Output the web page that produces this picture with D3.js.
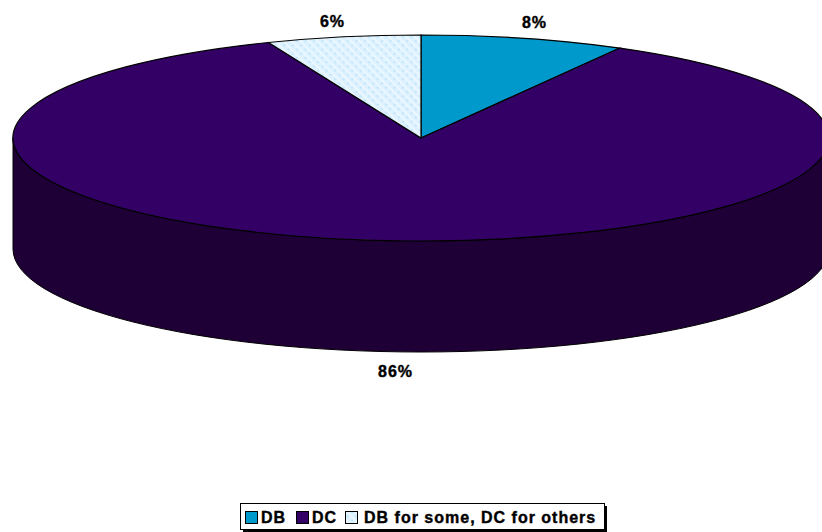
<!DOCTYPE html>
<html><head><meta charset="utf-8">
<script src="https://cdn.jsdelivr.net/npm/d3@7"></script>
<style>html,body{margin:0;padding:0;background:#fff;overflow:hidden}svg{display:block}text{font-family:"Liberation Sans",Arial,sans-serif;font-weight:bold;fill:#000;stroke:#000;stroke-width:.4px;letter-spacing:1px}</style>
</head><body><svg id="c" width="822" height="532"></svg>
<script>
const categories = ["DB", "DC", "DB for some, DC for others"];
const values = [8.1, 85.8, 6.1];
const valueLabels = ["8%", "86%", "6%"];
const colors = ["#0099CC", "#330066", "url(#dots)"];
const sideColor = "#1F0036";

const svg = d3.select("#c");
const cx = 421, cy = 138, rx = 408, ry = 103, depth = 111;

const defs = svg.append("defs");
const p = defs.append("pattern").attr("id", "dots").attr("patternUnits", "userSpaceOnUse")
  .attr("width", 6).attr("height", 6).attr("patternTransform", "rotate(45)");
p.append("rect").attr("width", 6).attr("height", 6).attr("fill", "#DDF2FE");
p.append("rect").attr("width", 6).attr("height", 1.5).attr("y", 2).attr("fill", "#EEF9FF");
p.append("rect").attr("width", 1.2).attr("height", 1.2).attr("x", 4.4).attr("y", 4.4).attr("fill", "#8FD0F6");

// extruded wall (front half of the ellipse)
svg.append("path")
  .attr("d", `M${cx - rx},${cy} L${cx - rx},${cy + depth} A${rx},${ry} 0 0 0 ${cx + rx},${cy + depth} L${cx + rx},${cy} A${rx},${ry} 0 0 1 ${cx - rx},${cy} Z`)
  .attr("fill", sideColor).attr("stroke", "#000").attr("stroke-width", 1);

// top face: pie angles mapped onto an ellipse
const pie = d3.pie().sort(null).value(d => d)(values);
const px = a => cx + rx * Math.sin(a), py = a => cy - ry * Math.cos(a);
const slicePath = d => `M${cx},${cy} L${px(d.startAngle)},${py(d.startAngle)} A${rx},${ry} 0 ${d.endAngle - d.startAngle > Math.PI ? 1 : 0} 1 ${px(d.endAngle)},${py(d.endAngle)} Z`;
svg.append("g").selectAll("path").data(pie).join("path")
  .attr("d", slicePath)
  .attr("fill", (d, i) => colors[i])
  .attr("stroke", "#000").attr("stroke-width", 1.2);

// value labels
const labelPos = [[534.5, 22], [395.5, 371], [332.5, 21]];
svg.selectAll("text.v").data(valueLabels).join("text").attr("class", "v")
  .attr("x", (d, i) => labelPos[i][0]).attr("y", (d, i) => labelPos[i][1])
  .attr("dy", "0.35em").attr("text-anchor", "middle")
  .attr("font-size", 16).text(d => d);

// legend
const lg = svg.append("g");
lg.append("rect").attr("x", 243).attr("y", 506).attr("width", 364).attr("height", 26).attr("fill", "#000");
lg.append("rect").attr("x", 240.5).attr("y", 503.5).attr("width", 364).attr("height", 26).attr("fill", "#fff").attr("stroke", "#000");
const itemX = [245, 296, 345];
const textX = [261, 312, 364];
categories.forEach((c, i) => {
  lg.append("rect").attr("x", itemX[i] + 0.5).attr("y", 511.5).attr("width", 12).attr("height", 12)
    .attr("fill", colors[i]).attr("stroke", "#000");
  lg.append("text").attr("x", textX[i]).attr("y", 517.5).attr("dy", "0.35em").attr("font-size", 16).text(c);
});
</script></body></html>
